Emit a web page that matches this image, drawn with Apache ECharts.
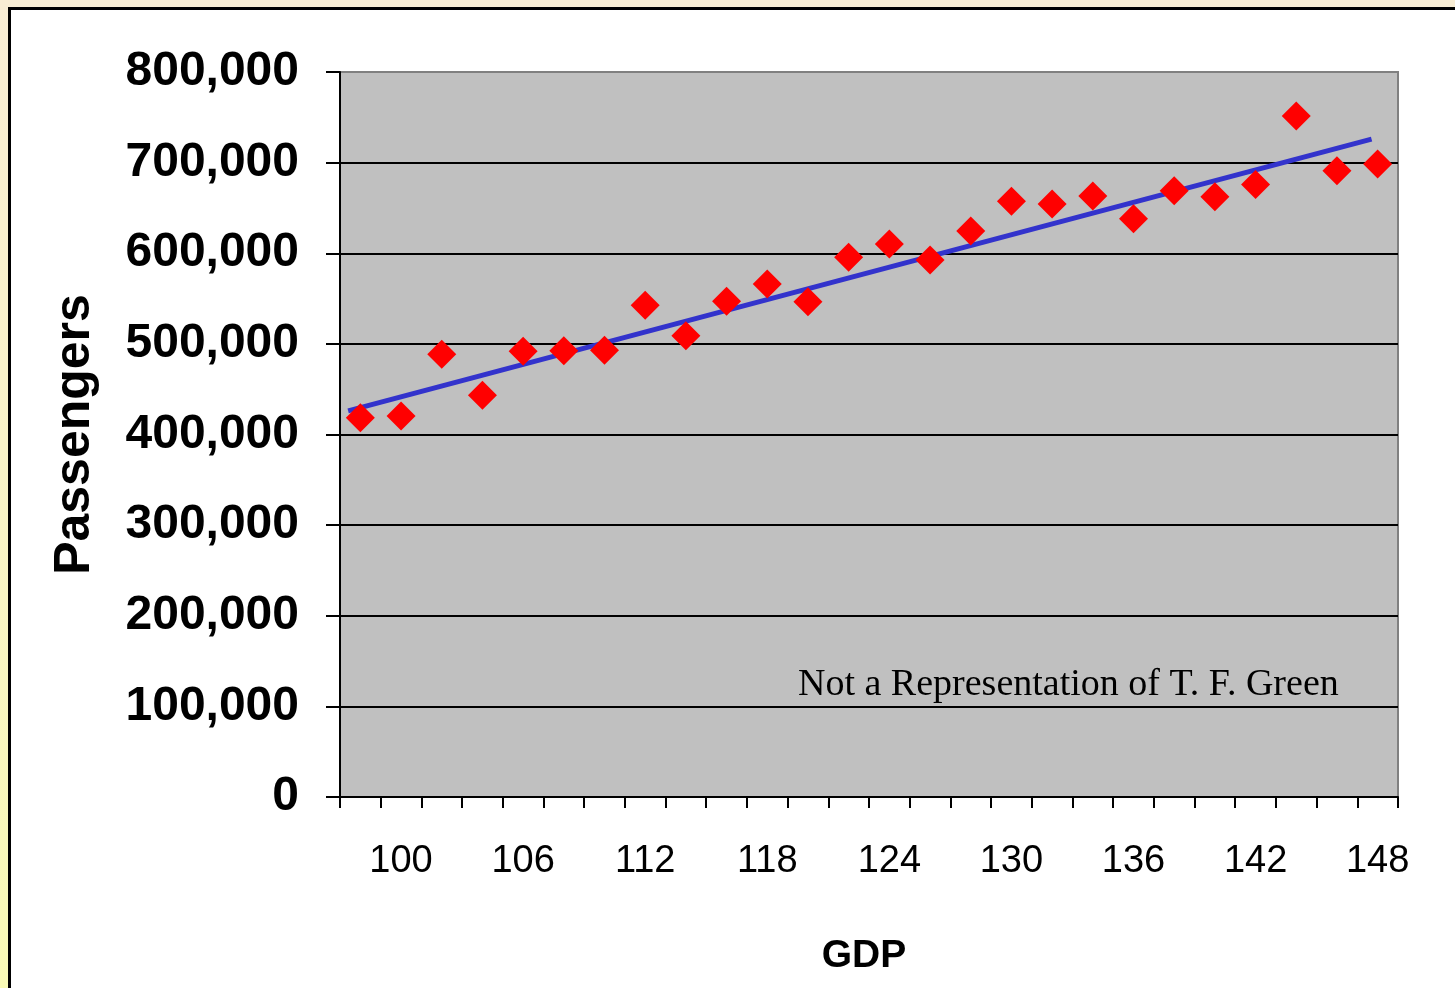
<!DOCTYPE html>
<html>
<head>
<meta charset="utf-8">
<script src="https://cdn.jsdelivr.net/npm/echarts@6/dist/echarts.min.js"></script>
<style>
  html, body { margin:0; padding:0; width:1455px; height:988px; overflow:hidden;
    background: linear-gradient(180deg, #F8EDD4 0%, #F8F3C8 45%, #F9FAB6 100%); }
  #panel { position:absolute; left:8px; top:7px; width:1500px; height:1100px; background:#fff;
    border-left:3px solid #000; border-top:3px solid #000; box-sizing:border-box; }
  #chart { position:absolute; left:0; top:0; width:1455px; height:988px; }
</style>
</head>
<body>
<div id="panel"></div>
<div id="chart"></div>
<script>
// ---- data ----
const gdp = [98,100,102,104,106,108,110,112,114,116,118,120,122,124,126,128,130,132,134,136,138,140,142,144,146,148];
const passengers = [418500,420400,488500,443200,491800,492500,493000,542500,509000,547000,566000,546500,595500,610200,592500,624500,657300,654300,663100,638100,669000,662400,676000,751400,691100,698500];
const trendX = [97.4, 147.7];
const trendY = [426000, 726000];
const xTickValues = [97,99,101,103,105,107,109,111,113,115,117,119,121,123,125,127,129,131,133,135,137,139,141,143,145,147,149];
const xLabelValues = [100,106,112,118,124,130,136,142,148];
const note = 'Not a Representation of T. F. Green';

const fmt = v => String(v).replace(/\B(?=(\d{3})+(?!\d))/g, ',');
const sans = 'Liberation Sans, Arial, sans-serif';

const chart = echarts.init(document.getElementById('chart'), null, {renderer:'canvas'});
chart.setOption({
  backgroundColor: 'transparent',
  animation: false,
  grid: { left:340, top:72, right:57, bottom:191, show:true, backgroundColor:'#C0C0C0',
          borderColor:'#808080', borderWidth:2, outerBoundsMode:'none', containLabel:false },
  xAxis: {
    type:'value', min:97, max:149,
    name:'GDP', nameLocation:'middle', nameGap:140,
    nameTextStyle:{ fontFamily:sans, fontWeight:'bold', fontSize:39, color:'#000', padding:[0,10,0,0] },
    axisLine:{ show:true, onZero:false, lineStyle:{ color:'#000', width:2 } },
    axisTick:{ show:true, length:11, lineStyle:{ color:'#000', width:2 }, customValues:xTickValues },
    axisLabel:{ fontFamily:sans, fontSize:38, color:'#000', margin:46, customValues:xLabelValues },
    splitLine:{ show:false }
  },
  yAxis: {
    type:'value', min:0, max:800000, interval:100000,
    name:'Passengers', nameLocation:'middle', nameRotate:90, nameGap:240,
    nameTextStyle:{ fontFamily:sans, fontWeight:'bold', fontSize:50, color:'#000' },
    axisLine:{ show:true, lineStyle:{ color:'#000', width:2 } },
    axisTick:{ show:true, length:14, lineStyle:{ color:'#000', width:2 } },
    axisLabel:{ fontFamily:sans, fontWeight:'bold', fontSize:48, color:'#000', margin:41,
                padding:[10,0,0,0], formatter: v => fmt(v) },
    splitLine:{ show:true, showMaxLine:false, lineStyle:{ color:'#000', width:2 } }
  },
  graphic: [{
    type:'text', left:798, top:666, z:10,
    style:{ text:note, fontFamily:'Liberation Serif, Times New Roman, serif', fontSize:38, fill:'#000' }
  }],
  series: [
    { type:'line', data: trendX.map((x,i)=>[x, trendY[i]]), showSymbol:false, symbol:'none',
      lineStyle:{ color:'#3333CC', width:5 }, z:3 },
    { type:'scatter', data: gdp.map((x,i)=>[x, passengers[i]]), symbol:'diamond', symbolSize:[29,29],
      itemStyle:{ color:'#FF0000', opacity:1 }, z:4 }
  ]
});
</script>
</body>
</html>
